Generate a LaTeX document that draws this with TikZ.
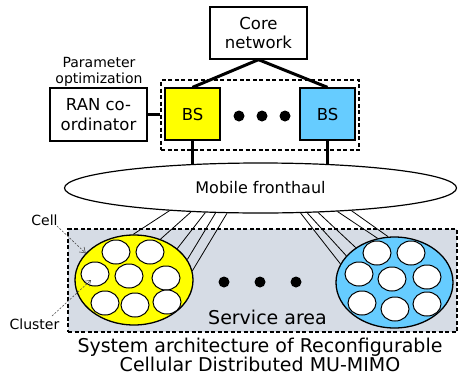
\documentclass[tikz,border=0pt]{standalone}
\usepackage{fontspec}
\setmainfont{DejaVu Sans}
\usetikzlibrary{shapes.geometric,arrows.meta}
\pgfdeclarelayer{bglayer}
\pgfdeclarelayer{linelayer}
\pgfsetlayers{bglayer,linelayer,main}
\definecolor{bsyellow}{RGB}{255,255,0}
\definecolor{bsblue}{RGB}{102,204,255}
\definecolor{areagray}{RGB}{214,220,229}
\tikzset{
  box/.style={draw, line width=1.3pt, inner sep=0pt, align=center, font=\fontsize{16.5}{19.5}\selectfont},
  thickline/.style={line width=3pt},
  fanline/.style={line width=0.8pt},
  cellc/.style={ellipse, draw, fill=white, line width=1pt, minimum width=28pt, minimum height=24pt, inner sep=0pt},
  bigdot/.style={circle, fill=black, minimum size=11pt, inner sep=0pt},
  grpbox/.style={draw, line width=1.1pt, dash pattern=on 4pt off 2.5pt},
  callout/.style={dash pattern=on 2pt off 1.5pt, line width=0.6pt, black!70, -{Straight Barb[length=5pt,width=7pt]}},
  lbl/.style={inner sep=1pt, font=\fontsize{14}{16}\selectfont},
}
\begin{document}
\begin{tikzpicture}[x=1pt,y=-1pt]
\useasboundingbox (0,0) rectangle (458,378);

% top boxes
\node[box, minimum width=97pt, minimum height=52pt] (core) at (258.5,33) {Core\\network};
\node[box, minimum width=97pt, minimum height=53pt] (ran) at (98.5,114.5) {RAN co-\\ordinator};
\node[lbl, align=center] (param) at (99,72) {Parameter\\optimization};
\node[grpbox, minimum width=198pt, minimum height=70pt] (grp) at (260,115) {};
\node[box, fill=bsyellow, minimum width=55pt, minimum height=52pt] (bs1) at (192.5,114) {BS};
\node[box, fill=bsblue, minimum width=55pt, minimum height=52pt] (bs2) at (327.5,114) {BS};
\node[bigdot] (d1) at (239,116) {};
\node[bigdot] (d2) at (262,116) {};
\node[bigdot] (d3) at (285,116) {};

% fronthaul
\node[ellipse, draw, fill=white, line width=1.2pt, minimum width=392pt, minimum height=50pt, inner sep=0pt, font=\fontsize{16}{19}\selectfont] (fh) at (260.5,188) {Mobile fronthaul};

% service area
\begin{pgfonlayer}{bglayer}
\node[draw, fill=areagray, line width=1.1pt, dash pattern=on 4pt off 2.5pt, minimum width=389pt, minimum height=103pt] (sa) at (262.5,280.5) {};
\end{pgfonlayer}
\node[font=\fontsize{19}{22}\selectfont] (satext) at (267.5,317) {Service area};
\node[bigdot] (s1) at (224,282) {};
\node[bigdot] (s2) at (260,282) {};
\node[bigdot] (s3) at (296,282) {};

% clusters
\node[ellipse, draw, fill=bsyellow, line width=1.3pt, minimum width=118pt, minimum height=90pt, inner sep=0pt] (yc) at (134,280) {};
\node[ellipse, draw, fill=bsblue, line width=1.3pt, minimum width=117pt, minimum height=91pt, inner sep=0pt] (bc) at (394.5,282.5) {};
\foreach \p [count=\i] in {{116,252},{150,252},{95,274},{129,276},{166,278},{105,303},{135,305},{167,302}}
  \node[cellc] (y\i) at (\p) {};
\foreach \p [count=\i] in {{377,253},{411,253},{359,274},{392,279},{427,277},{362,303},{395,309},{427,304}}
  \node[cellc] (b\i) at (\p) {};

% connectors
\draw[thickline] (core.south) -- (bs1.north);
\draw[thickline] (core.south) -- (bs2.north);
\draw[thickline] (ran.east) -- (ran.east -| grp.west);
\begin{pgfonlayer}{linelayer}
\draw[thickline] (bs1.south) -- (bs1.south |- fh.center);
\draw[thickline] (bs2.south) -- (bs2.south |- fh.center);
\foreach \a/\b in {194.3/91, 199.8/57, 204.6/36, 209.9/21, 217.2/9}
  \draw[fanline] (fh.\a) -- (yc.\b);
\foreach \a/\b in {328.2/161, 332.9/151, 337/138, 343.5/111, 346.2/98}
  \draw[fanline] (fh.\a) -- (bc.\b);
\end{pgfonlayer}

% labels
\node[lbl] (celltxt) at (44.5,220) {Cell};
\node[lbl] (clustertxt) at (34.5,324) {Cluster};
\coordinate (cellstart) at (57,226);
\coordinate (clusterstart) at (52,316);
\coordinate (clustertip) at (91,280);
\draw[callout] (cellstart) -- (yc.151);
\draw[callout] (clusterstart) -- (clustertip);

% caption
\node[align=center, inner sep=0pt, font=\fontsize{19}{18.5}\selectfont] (cap) at (260,355) {System architecture of Reconfigurable\\Cellular Distributed MU-MIMO};
\end{tikzpicture}
\end{document}
